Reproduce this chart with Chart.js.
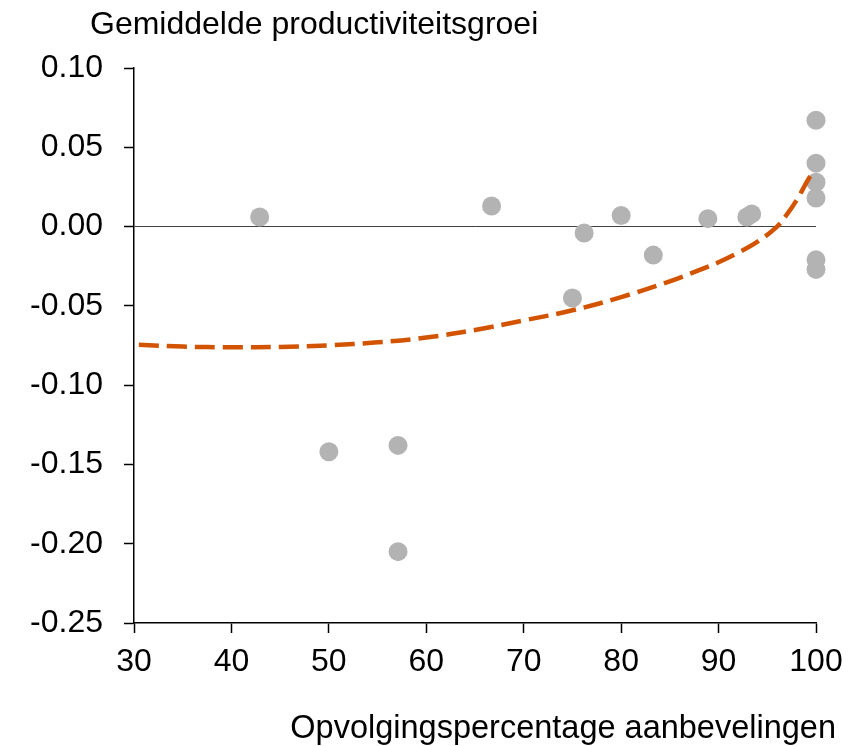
<!DOCTYPE html>
<html>
<head>
<meta charset="utf-8">
<script src="https://cdn.jsdelivr.net/npm/chart.js@4"></script>
<style>
  body { margin: 0; background: #fff; }
</style>
</head>
<body>
<canvas id="myChart" width="863" height="746"></canvas>
<script>
// observed countries: follow-up % vs avg productivity growth
const followUp = [42.9, 50.0, 57.1, 57.1, 66.7, 75.0, 76.2, 80.0, 83.3, 88.9, 92.9, 93.4, 100, 100, 100, 100, 100, 100];
const growth   = [0.006, -0.142, -0.138, -0.205, 0.013, -0.045, -0.004, 0.007, -0.018, 0.005, 0.006, 0.008, 0.067, 0.040, 0.028, 0.018, -0.021, -0.027];

// fitted curve (dashed)
const fitX = [30.5, 35, 40, 45, 50, 55, 60, 65, 70, 75, 80, 85, 88, 90, 92, 94, 96, 97, 98, 99, 99.7];
const fitY = [-0.0745, -0.0757, -0.0761, -0.0759, -0.0749, -0.0730, -0.0700, -0.0652, -0.0592, -0.0528, -0.0445, -0.0345, -0.0275, -0.0225, -0.0165, -0.0095, 0.0000, 0.0075, 0.0165, 0.0275, 0.0350];

const xTicks = [30, 40, 50, 60, 70, 80, 90, 100];
const yTicks = [-0.25, -0.20, -0.15, -0.10, -0.05, 0.00, 0.05, 0.10];

const yTitle = 'Gemiddelde productiviteitsgroei';
const xTitle = 'Opvolgingspercentage aanbevelingen';

const FONT = '"Liberation Sans", Arial, sans-serif';

const axisTitles = {
  id: 'axisTitles',
  afterDraw(chart) {
    const c = chart.ctx;
    c.save();
    c.fillStyle = '#000';
    c.textBaseline = 'middle';
    c.font = '32px ' + FONT;
    c.textAlign = 'left';
    c.fillText(yTitle, 90, 25);
    c.font = '32.5px ' + FONT;
    c.textAlign = 'right';
    c.fillText(xTitle, 836, 729);
    c.restore();
  }
};

const ctx = document.getElementById('myChart').getContext('2d');
new Chart(ctx, {
  type: 'scatter',
  data: {
    datasets: [
      {
        type: 'line',
        data: fitX.map((x, i) => ({x: x, y: fitY[i]})),
        borderColor: '#D35400',
        borderWidth: 4.5,
        borderDash: [20, 8],
        pointRadius: 0,
        tension: 0.4,
        fill: false,
        clip: false,
        order: 0
      },
      {
        data: followUp.map((x, i) => ({x: x, y: growth[i]})),
        backgroundColor: '#B3B3B3',
        borderWidth: 0,
        pointRadius: 9.5,
        pointHoverRadius: 9.5,
        clip: false,
        order: 1
      }
    ]
  },
  options: {
    responsive: false,
    animation: false,
    events: [],
    layout: { padding: { top: 68, right: 47, left: 0, bottom: 0 } },
    plugins: {
      legend: { display: false },
      tooltip: { enabled: false }
    },
    scales: {
      x: {
        type: 'linear',
        min: 30,
        max: 100,
        afterFit: s => { s.height = 123; },
        afterBuildTicks: s => { s.ticks = xTicks.map(v => ({value: v})); },
        border: { display: true, color: '#000', width: 1.5 },
        grid: { drawOnChartArea: false, drawTicks: true, tickLength: 10, tickColor: '#000', tickWidth: 1.5 },
        ticks: { color: '#000', font: { size: 32, family: FONT }, padding: 10, maxRotation: 0 }
      },
      y: {
        type: 'linear',
        min: -0.25,
        max: 0.10,
        afterFit: s => { s.width = 134; },
        afterBuildTicks: s => { s.ticks = yTicks.map(v => ({value: v})); },
        border: { display: true, color: '#000', width: 1.5 },
        grid: {
          drawOnChartArea: true,
          drawTicks: true,
          tickLength: 10,
          tickColor: '#000',
          tickWidth: 1.5,
          color: c => (c.tick && Math.abs(c.tick.value) < 1e-9) ? '#404040' : 'rgba(0,0,0,0)',
          lineWidth: 1
        },
        ticks: {
          color: '#000',
          font: { size: 32, family: FONT },
          padding: 21,
          callback: v => v.toFixed(2)
        }
      }
    }
  },
  plugins: [axisTitles]
});
</script>
</body>
</html>
